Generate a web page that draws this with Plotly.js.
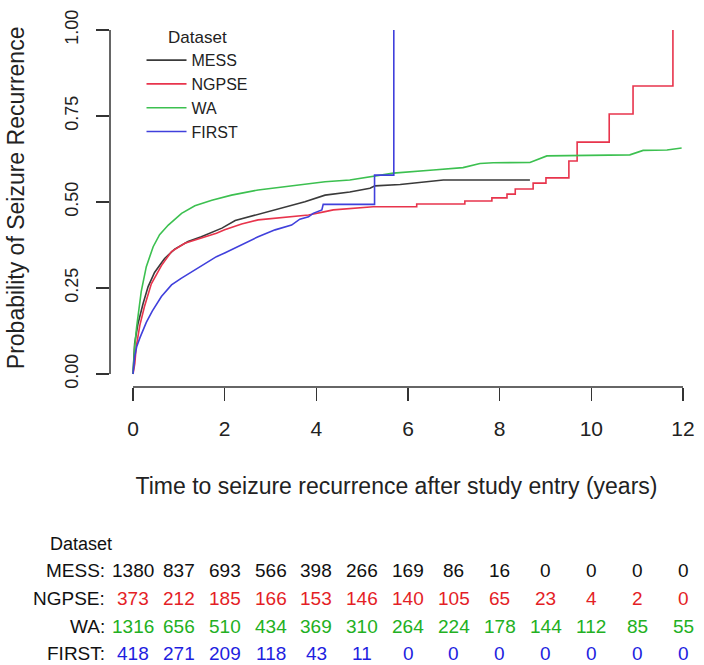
<!DOCTYPE html>
<html>
<head>
<meta charset="utf-8">
<script src="https://cdn.plot.ly/plotly-3.0.1.min.js"></script>
<style>html,body{margin:0;padding:0;background:#fff;}#chart{width:704px;height:665px;}</style>
</head>
<body>
<div id="chart"></div>
<script>
// ---- Data ----
const seriesNames = ["MESS", "NGPSE", "WA", "FIRST"];

const messX = [0, 0.036, 0.11, 0.22, 0.33, 0.41, 0.47, 0.63, 0.69, 0.91, 1.2, 1.49, 1.64, 1.82, 1.94, 2.23, 2.73, 3.24, 3.75, 4.19, 4.73, 5.17, 5.28, 5.83, 6.41, 6.77, 8.66];
const messY = [0, 0.089, 0.147, 0.205, 0.254, 0.275, 0.295, 0.325, 0.336, 0.363, 0.385, 0.399, 0.407, 0.417, 0.424, 0.446, 0.464, 0.482, 0.501, 0.520, 0.529, 0.540, 0.547, 0.551, 0.559, 0.564, 0.564];

const ngpseX = [0, 0.04, 0.07, 0.15, 0.25, 0.40, 0.62, 0.84, 1.13, 1.49, 1.82, 2.0, 2.37, 2.73, 3.1, 3.46, 3.83, 4.19, 4.37, 5.24, 6.19, 6.19, 7.24, 7.24, 7.83, 7.83, 8.16, 8.16, 8.34, 8.34, 8.73, 8.73, 9.01, 9.01, 9.51, 9.51, 9.69, 9.69, 10.39, 10.39, 10.91, 10.91, 11.78, 11.78];
const ngpseY = [0, 0.031, 0.079, 0.142, 0.196, 0.262, 0.315, 0.356, 0.380, 0.394, 0.409, 0.419, 0.436, 0.448, 0.453, 0.457, 0.462, 0.472, 0.477, 0.486, 0.486, 0.494, 0.494, 0.503, 0.503, 0.512, 0.512, 0.523, 0.523, 0.538, 0.538, 0.555, 0.555, 0.570, 0.570, 0.619, 0.619, 0.674, 0.674, 0.756, 0.756, 0.837, 0.837, 1.0];

const waX = [0, 0.036, 0.08, 0.11, 0.18, 0.29, 0.44, 0.58, 0.77, 1.06, 1.35, 1.72, 2.15, 2.73, 3.32, 3.9, 4.19, 4.73, 5.24, 5.68, 6.55, 7.2, 7.57, 7.86, 8.66, 9.03, 10.84, 11.13, 11.65, 11.97];
const waY = [0, 0.079, 0.138, 0.167, 0.240, 0.312, 0.370, 0.405, 0.433, 0.467, 0.489, 0.505, 0.520, 0.535, 0.545, 0.556, 0.559, 0.564, 0.574, 0.584, 0.593, 0.600, 0.612, 0.614, 0.615, 0.634, 0.637, 0.650, 0.651, 0.657];

const firstX = [0, 0.036, 0.08, 0.15, 0.29, 0.42, 0.62, 0.84, 1.05, 1.35, 1.64, 1.82, 2.0, 2.37, 2.73, 3.10, 3.46, 3.64, 3.83, 3.93, 4.12, 4.15, 5.27, 5.27, 5.69, 5.69];
const firstY = [0, 0.05, 0.079, 0.105, 0.150, 0.183, 0.225, 0.259, 0.278, 0.302, 0.325, 0.341, 0.352, 0.375, 0.399, 0.419, 0.433, 0.450, 0.457, 0.467, 0.477, 0.493, 0.493, 0.578, 0.578, 1.0];

// Numbers at risk table
const riskTimes = [0, 1, 2, 3, 4, 5, 6, 7, 8, 9, 10, 11, 12];
const riskMESS  = [1380, 837, 693, 566, 398, 266, 169, 86, 16, 0, 0, 0, 0];
const riskNGPSE = [373, 212, 185, 166, 153, 146, 140, 105, 65, 23, 4, 2, 0];
const riskWA    = [1316, 656, 510, 434, 369, 310, 264, 224, 178, 144, 112, 85, 55];
const riskFIRST = [418, 271, 209, 118, 43, 11, 0, 0, 0, 0, 0, 0, 0];

const xTickVals = [0, 2, 4, 6, 8, 10, 12];
const yTickVals = [0, 0.25, 0.5, 0.75, 1];
const yTickText = ["0.00", "0.25", "0.50", "0.75", "1.00"];

const xTitle = "Time to seizure recurrence after study entry (years)";
const yTitle = "Probability of Seizure Recurrence";

// ---- Styles ----
const lineColors = ["#3a3a3a", "#e8344c", "#3cc050", "#4040dc"];
const tableColors = ["#111111", "#e41e26", "#22b022", "#1e1ee0"];
const FONT = "Liberation Sans, Arial, Helvetica, sans-serif";
const AXIS_COLOR = "#333";

const xs = [messX, ngpseX, waX, firstX];
const ys = [messY, ngpseY, waY, firstY];
const risks = [riskMESS, riskNGPSE, riskWA, riskFIRST];

const traces = seriesNames.map((name, i) => ({
  type: "scatter",
  mode: "lines",
  name: name,
  x: xs[i],
  y: ys[i],
  line: {color: lineColors[i], width: 1.6, shape: "linear"},
  hoverinfo: "skip"
}));

// Detached (R-style) axes: the axis ranges leave a small gap, and the axis lines
// are drawn only over the tick span.
const xFirst = xTickVals[0], xLast = xTickVals[xTickVals.length - 1];
const yFirst = yTickVals[0], yLast = yTickVals[yTickVals.length - 1];
const shapes = [
  {type: "line", xref: "x", yref: "paper", x0: xFirst, x1: xLast, y0: 0, y1: 0,
   line: {color: AXIS_COLOR, width: 1.5}, layer: "above"},
  {type: "line", xref: "paper", yref: "y", x0: 0, x1: 0, y0: yFirst, y1: yLast,
   line: {color: AXIS_COLOR, width: 1.5}, layer: "above"}
];

// y-axis title (placed as rotated text at the far left, as in the reference)
const annotations = [];
annotations.push({
  xref: "paper", yref: "paper", x: -0.164, y: 0.529,
  xanchor: "center", yanchor: "middle", showarrow: false, textangle: -90,
  text: yTitle, font: {family: FONT, size: 23, color: "#222"}
});

// table annotations
const rowY = [-0.5146, -0.592, -0.671, -0.746];
annotations.push({
  xref: "paper", yref: "paper", x: -0.108, y: -0.44,
  xanchor: "left", yanchor: "middle", showarrow: false,
  text: "Dataset", font: {family: FONT, size: 18, color: "#111"}
});
seriesNames.forEach((name, i) => {
  annotations.push({
    xref: "paper", yref: "paper", x: -0.005, y: rowY[i],
    xanchor: "right", yanchor: "middle", showarrow: false,
    text: name + ":", font: {family: FONT, size: 19, color: "#111"}
  });
  riskTimes.forEach((t, j) => {
    annotations.push({
      xref: "x", yref: "paper", x: t, y: rowY[i],
      xanchor: "center", yanchor: "middle", showarrow: false,
      text: String(risks[i][j]), font: {family: FONT, size: 19, color: tableColors[i]}
    });
  });
});

const layout = {
  width: 704,
  height: 665,
  margin: {l: 110, r: 21, t: 30, b: 278, pad: 0},
  paper_bgcolor: "#ffffff",
  plot_bgcolor: "#ffffff",
  font: {family: FONT, color: "#222"},
  showlegend: true,
  legend: {
    x: 0.055, y: 1.025, xanchor: "left", yanchor: "top",
    bgcolor: "rgba(0,0,0,0)", borderwidth: 0,
    itemwidth: 40,
    font: {family: FONT, size: 16, color: "#222"},
    title: {text: "Dataset", side: "top center", font: {family: FONT, size: 17, color: "#222"}},
    tracegroupgap: 0
  },
  xaxis: {
    range: [-0.502, 12],
    tickmode: "array", tickvals: xTickVals,
    ticks: "outside", ticklen: 13, tickwidth: 1.5, tickcolor: AXIS_COLOR,
    showline: false, showgrid: false, zeroline: false,
    tickfont: {family: FONT, size: 21, color: "#222"},
    ticklabelstandoff: 10,
    title: {text: xTitle, font: {family: FONT, size: 23, color: "#222"}, standoff: 38},
    fixedrange: true
  },
  yaxis: {
    range: [-0.0378, 1],
    tickmode: "array", tickvals: yTickVals, ticktext: yTickText, tickangle: -90,
    ticks: "outside", ticklen: 13, tickwidth: 1.5, tickcolor: AXIS_COLOR,
    showline: false, showgrid: false, zeroline: false,
    tickfont: {family: FONT, size: 18, color: "#222"},
    ticklabelstandoff: 11,
    fixedrange: true
  },
  shapes: shapes,
  annotations: annotations
};

Plotly.newPlot("chart", traces, layout, {displayModeBar: false, staticPlot: true});
</script>
</body>
</html>
